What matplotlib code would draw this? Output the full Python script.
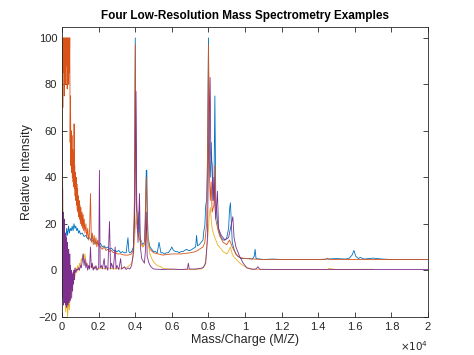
import numpy as np
import matplotlib.pyplot as plt

plt.rcParams['font.family'] = ['Liberation Sans', 'DejaVu Sans']

# spectrum 1 (blue)
mz1 = [0, 40, 80, 120, 160, 200, 250, 300, 350, 400, 450, 500, 550, 600, 650, 700, 750, 800, 850, 900,
       950, 1000, 1100, 1200, 1300, 1400, 1500, 1600, 1700, 1800, 1900, 2000, 2100, 2200, 2300, 2400,
       2500, 2600, 2700, 2800, 2900, 3000, 3100, 3200, 3300, 3400, 3500, 3600, 3650, 3700, 3800, 3900,
       3950, 4000, 4030, 4060, 4100, 4150, 4200, 4250, 4300, 4400, 4500, 4550, 4600, 4630, 4660, 4700,
       4800, 4900, 5000, 5100, 5200, 5300, 5400, 5500, 5600, 5700, 5800, 5900, 6000, 6050, 6100, 6200,
       6300, 6400, 6500, 6600, 6700, 6800, 6900, 7000, 7100, 7200, 7300, 7350, 7400, 7500, 7600, 7700,
       7750, 7800, 7850, 7900, 7950, 8000, 8030, 8060, 8100, 8150, 8200, 8250, 8300, 8350, 8400, 8450,
       8500, 8550, 8600, 8700, 8800, 8900, 9000, 9100, 9150, 9200, 9250, 9300, 9400, 9500, 9600, 9700,
       9800, 10000, 10200, 10400, 10500, 10550, 10600, 10800, 11000, 11500, 12000, 12500, 13000, 13500,
       14000, 14500, 15000, 15500, 15700, 15850, 15950, 16050, 16200, 16300, 16500, 17000, 17500, 18000,
       19000, 20000]
int1 = [2, 8, 14, 10, 16, 12, 18, 15, 19, 16, 18, 17, 19, 17, 20, 18, 19, 17, 18, 16,
        17, 15.5, 16, 14.5, 15, 13.5, 14, 12.5, 13, 11.5, 12, 11, 11.5, 10, 10.5, 9.5,
        10, 9, 9.5, 8.5, 8.5, 8, 8.5, 7.5, 8, 7.5, 7.5, 14, 8, 7.5, 8, 10,
        20, 100, 60, 30, 20, 18, 25, 15, 13, 11, 12, 20, 43, 43, 25, 14,
        10, 9, 8, 8, 7.5, 12, 7.5, 7.5, 7, 7.5, 7.5, 8.5, 10, 9, 8.5, 8,
        8, 7.5, 8, 8, 8.5, 9, 8.5, 8.5, 9, 9.5, 10, 15, 10.5, 11, 12, 13,
        17, 19, 28, 30, 50, 100, 70, 45, 40, 55, 43, 30, 35, 75, 30, 25,
        20, 18, 16, 14, 13, 13, 14, 18, 26, 29, 20, 12, 9, 7, 6, 5.5,
        5, 5, 5, 4.8, 6, 9, 5, 4.8, 4.6, 4.8, 4.6, 4.6, 4.6, 4.6,
        4.6, 4.8, 5, 4.8, 5.2, 6.5, 8.5, 6, 5, 5.5, 4.8, 5.2, 4.8, 4.6,
        4.6, 4.6]

# spectrum 2 (orange)
mz2 = [0, 20, 40, 60, 80, 100, 120, 140, 160, 180, 200, 220, 240, 260, 280, 300, 320, 340, 360, 380,
       400, 420, 440, 460, 480, 500, 520, 540, 560, 580, 600, 620, 640, 655, 670, 690, 710, 730, 750,
       770, 790, 810, 830, 850, 870, 890, 910, 930, 950, 970, 1000, 1030, 1060, 1090, 1120, 1150, 1180,
       1210, 1250, 1300, 1350, 1400, 1450, 1500, 1550, 1600, 1650, 1700, 1750, 1800, 1850, 1900, 1950,
       2000, 2100, 2200, 2300, 2400, 2500, 2600, 2700, 2800, 2900, 3000, 3200, 3400, 3600, 3800, 3900,
       3950, 4000, 4030, 4060, 4100, 4200, 4300, 4400, 4500, 4550, 4600, 4650, 4700, 4800, 5000, 5500,
       6000, 6500, 7000, 7300, 7500, 7700, 7800, 7900, 7950, 8000, 8030, 8060, 8100, 8150, 8200, 8300,
       8350, 8400, 8500, 8600, 8800, 9000, 9150, 9200, 9300, 9500, 9700, 10000, 11000, 14400, 14500,
       14600, 20000]
int2 = [90, 100, 70, 100, 85, 100, 75, 100, 90, 100, 80, 100, 88, 100, 78, 100, 85, 100, 80, 100,
        85, 100, 55, 75, 45, 60, 42, 58, 40, 52, 38, 50, 36, 63, 35, 45, 32, 42, 30,
        40, 28, 37, 26, 35, 25, 32, 23, 30, 22, 28, 20, 27, 19, 25, 18, 24, 17,
        22, 16, 20, 14, 18, 13, 16, 33, 12, 16, 11, 15, 11, 14, 10, 13,
        10.5, 10, 9, 10, 8.5, 9, 8, 8.5, 7.5, 8, 7, 7, 6.5, 6.5, 7, 9,
        30, 97, 50, 25, 18, 14, 12, 10, 11, 25, 40, 22, 12, 9, 7.5, 6.5,
        7, 7, 7.5, 8, 9, 10, 12, 20, 45, 97, 60, 40, 30, 38, 25, 28,
        45, 22, 18, 15, 12, 11, 13, 12, 10, 7, 5.5, 5, 4.6, 4.6, 5.2,
        4.6, 4.6]

# spectrum 3 (yellow)
mz3 = [0, 30, 60, 100, 150, 200, 250, 300, 350, 400, 450, 500, 550, 600, 650, 700, 750, 800, 850, 900,
       950, 1000, 1050, 1100, 1150, 1200, 1250, 1300, 1350, 1400, 1500, 1600, 1700, 1800, 2000, 2200,
       2400, 2600, 2800, 3000, 3200, 3400, 3600, 3800, 3900, 4000, 4050, 4100, 4200, 4300, 4400, 4500,
       4600, 4650, 4700, 4800, 4900, 5000, 5200, 5400, 5500, 6000, 7000, 7600, 7800, 7900, 8000, 8050,
       8100, 8150, 8200, 8300, 8400, 8500, 8600, 8800, 9000, 9150, 9200, 9300, 9400, 9600, 9800, 10000,
       10300, 11000, 14500, 14600, 14800, 15000, 17000]
int3 = [85, 40, 10, -5, -12, -18, -10, -20, -14, -17, -8, -12, -3, -6, 0, -3, 1, -1, 2, 0,
        3, 2, 5, 4, 7, 5, 7, 4, 3, 2, 1, 2, 0.5, 1.5, 0.5, 1,
        0.5, 1, 0.5, 0.8, 0.5, 1, 1.5, 3, 6, 18, 25, 20, 16, 13, 10, 11,
        14, 17, 12, 7, 5, 3.5, 2, 1.5, 0.8, 0.3, 0.3, 0.5, 2, 8, 18, 24,
        27, 22, 18, 15, 13, 11, 10, 8, 7, 9, 10, 7, 5.5, 4, 2.5, 1.5,
        0.5, 0.3, 0.3, 0.8, 0.5, 0.3, 0.4]

# spectrum 4 (purple)
mz4 = [0, 15, 30, 45, 60, 75, 90, 105, 120, 135, 150, 165, 180, 195, 210, 225, 240, 255, 270, 285,
       300, 315, 330, 345, 360, 375, 390, 405, 420, 435, 450, 475, 500, 525, 550, 575, 600, 625, 650,
       675, 700, 750, 800, 850, 900, 950, 1000, 1050, 1100, 1150, 1200, 1250, 1300, 1350, 1400, 1450,
       1500, 1550, 1600, 1650, 1700, 1750, 1800, 1850, 1900, 2000, 2040, 2080, 2150, 2200, 2300, 2350,
       2400, 2500, 2590, 2650, 2700, 2800, 2900, 2950, 3000, 3100, 3200, 3250, 3400, 3500, 3600, 3700,
       3800, 3900, 3980, 4040, 4080, 4150, 4230, 4280, 4350, 4500, 4550, 4600, 4650, 4750, 4850, 5000,
       5500, 6000, 6500, 6850, 6900, 6950, 7300, 7700, 7850, 7950, 8000, 8050, 8090, 8130, 8200, 8250,
       8300, 8350, 8400, 8490, 8550, 8700, 8900, 9100, 9250, 9330, 9400, 9500, 9700, 9900, 10100, 10400,
       10600, 10700, 10800, 12000, 20000]
int4 = [60, -5, 35, -12, 25, -15, 18, -8, 22, -14, 12, -10, 16, -15, 10, -12, 14, -16, 8, -13,
        12, -15, 6, -12, 9, -14, 5, -10, 7, -13, 2, -8, 0, -12, -2, -9, -1, -6, 0,
        -4, 1, -1, 0.5, 0, 1, 0, 2, 1, 4, 7, 2, 5, 1, 3, 0, 2,
        0.5, 10, 1, 3, 0, 1.5, 0.5, 2, 0, 1, 43, 1, 2, 0.5, 5, 0.5,
        2, 0, 21, 0.5, 3, 0.5, 10, 0.5, 2, 0.3, 5, 0.5, 1.5, 0.3, 1, 0.5,
        2, 8, 30, 77, 30, 12, 33, 10, 5, 3, 8, 25, 6, 3, 1.5, 0.5,
        0.3, 0.5, 0.3, 0.5, 3, 0.5, 0.5, 1, 3, 15, 50, 70, 83, 50, 45, 30,
        40, 28, 22, 34, 18, 15, 13, 14, 20, 23, 14, 10, 6, 3, 1, 0.4,
        0.5, 1.5, 0.4, 0.3, 0.3]

colors = ['#0072BD', '#D95319', '#EDB120', '#7E2F8E']

fig = plt.figure(figsize=(4.74, 3.55), dpi=100)
ax = fig.add_axes([0.131, 0.108, 0.772, 0.816])

for mz, inten, c in zip([mz1, mz2, mz3, mz4], [int1, int2, int3, int4], colors):
    ax.plot(np.array(mz) / 1e4, inten, color=c, lw=0.6)

ax.set_xlim(0, 2)
ax.set_ylim(-20, 104.7)
xt = np.arange(0, 2.01, 0.2)
ax.set_xticks(xt)
ax.set_xticklabels(['%g' % round(v, 1) for v in xt])
ax.set_yticks(np.arange(-20, 101, 20))

gray = '#262626'
for s in ax.spines.values():
    s.set_color(gray)
    s.set_linewidth(0.6)
ax.tick_params(direction='in', top=True, right=True, length=3.5, width=0.6,
               colors=gray, labelsize=8)

ax.set_title('Four Low-Resolution Mass Spectrometry Examples', fontsize=8.5,
             fontweight='bold', color='black', pad=6)
ax.set_xlabel('Mass/Charge (M/Z)', fontsize=9, color=gray, labelpad=2)
ax.set_ylabel('Relative Intensity', fontsize=9, color=gray, labelpad=4)
ax.text(1.0, -0.1, r'$\times10^{4}$', transform=ax.transAxes, ha='right', va='center',
        fontsize=7.5, color=gray)

fig.savefig('out.png', dpi=100)
